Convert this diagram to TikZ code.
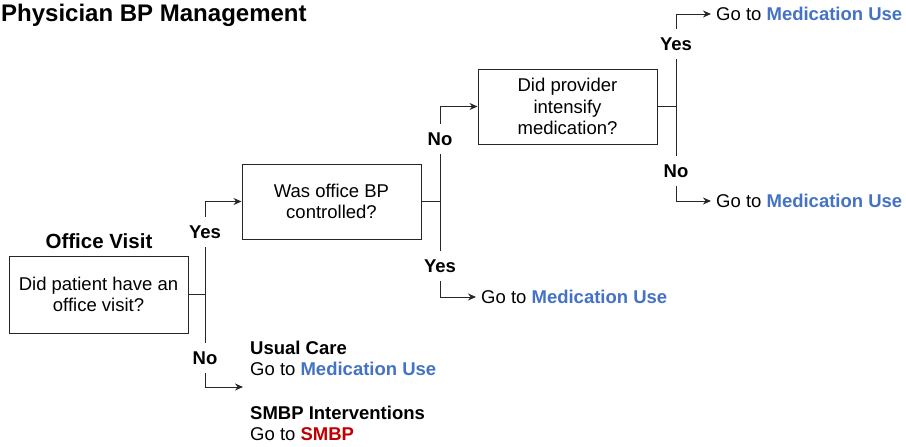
\documentclass[tikz,border=0pt]{standalone}
\usepackage{fontspec}
\setmainfont{Liberation Sans}
\usetikzlibrary{arrows.meta}
\definecolor{medblue}{RGB}{68,114,196}
\definecolor{smbpred}{RGB}{192,0,0}
\begin{document}
\begin{tikzpicture}[x=1pt,y=-1pt,
  every node/.style={font=\fontsize{18.5}{21.5}\selectfont},
  qbox/.style={draw=black!85, line width=1pt, align=center, inner sep=0pt, minimum width=179pt},
  lab/.style={font=\fontsize{18.5}{21.5}\selectfont\bfseries, inner sep=0pt, minimum height=30pt},
  dest/.style={anchor=west, inner xsep=5pt, inner ysep=0pt},
  conn/.style={line width=1pt, black!85},
  arr/.style={conn, -{Stealth[length=8pt,width=7pt]}}]
\path[use as bounding box] (0,0) rectangle (906,447);

\node[anchor=base west, inner sep=0pt, font=\fontsize{24}{28}\selectfont\bfseries] (title) at (1,21) {Physician BP Management};
\node[inner sep=0pt, font=\fontsize{20.5}{24}\selectfont\bfseries] (ov) at (99,241) {Office Visit};

% boxes
\node[qbox, minimum height=77pt] (b1) at (98.5,294.5) {Did patient have an\\office visit?};
\node[qbox, minimum height=75pt] (b2) at (331.5,201.5) {Was office BP\\controlled?};
\node[qbox, minimum height=75pt] (b3) at (567.5,106.5) {Did provider\\intensify\\medication?};

% labels
\node[lab] (yes1) at (205,232) {Yes};
\node[lab] (no1) at (205,358) {No};
\node[lab] (no2) at (440,139) {No};
\node[lab] (yes2) at (440,266) {Yes};
\node[lab] (yes3) at (676,44) {Yes};
\node[lab] (no3) at (676,171) {No};

% destinations
\node[dest] (g2) at (476,297) {Go to \textbf{\textcolor{medblue}{Medication Use}}};
\node[dest] (g3) at (711,14) {Go to \textbf{\textcolor{medblue}{Medication Use}}};
\node[dest] (g4) at (711,201) {Go to \textbf{\textcolor{medblue}{Medication Use}}};
\node[anchor=north west, align=left, inner sep=0pt, font=\fontsize{18.5}{20.5}\selectfont] (uc) at (250,341) {\textbf{Usual Care}\\Go to \textbf{\textcolor{medblue}{Medication Use}}};
\node[anchor=north west, align=left, inner sep=0pt, font=\fontsize{18.5}{20.5}\selectfont] (sm) at (250,406) {\textbf{SMBP Interventions}\\Go to \textbf{\textcolor{smbpred}{SMBP}}};

% junctions
\coordinate (j1) at (205,294.5);
\coordinate (j2) at (440,201.5);
\coordinate (j3) at (676,106.5);
\coordinate (a1) at (243,387);

% connectors
\draw[conn] (b1.east) -- (j1);
\draw[conn] (yes1.south) -- (no1.north);
\draw[arr] (yes1.north) |- (b2.west);
\draw[arr] (no1.south) |- (a1);

\draw[conn] (b2.east) -- (j2);
\draw[conn] (no2.south) -- (yes2.north);
\draw[arr] (no2.north) |- (b3.west);
\draw[arr] (yes2.south) |- (g2.west);

\draw[conn] (b3.east) -- (j3);
\draw[conn] (yes3.south) -- (no3.north);
\draw[arr] (yes3.north) |- (g3.west);
\draw[arr] (no3.south) |- (g4.west);
\end{tikzpicture}
\end{document}
